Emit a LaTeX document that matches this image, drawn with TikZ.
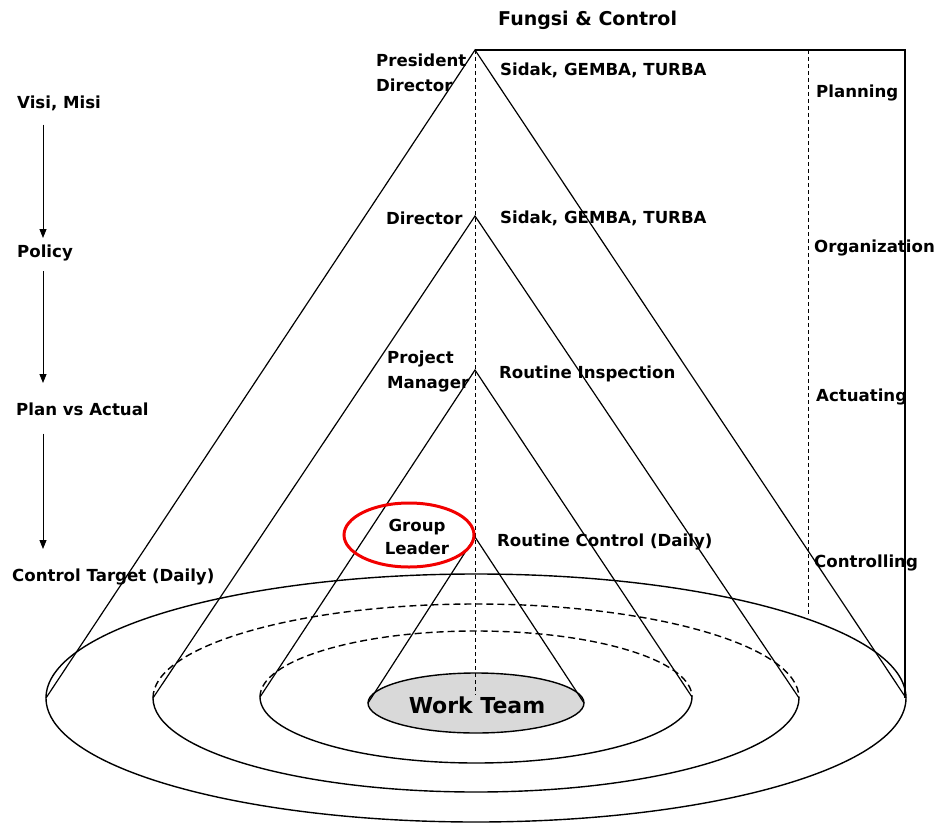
\documentclass[tikz,border=0pt]{standalone}
\usepackage{fontspec}
\setmainfont{DejaVu Sans}
\usetikzlibrary{arrows.meta}
\begin{document}
\begin{tikzpicture}[x=1pt,y=-1pt,
  lbl/.style={font=\bfseries\fontsize{16.6}{25}\selectfont, inner sep=0pt, anchor=west, align=left},
  ln/.style={line width=1.2pt, black},
  eln/.style={line width=1.4pt, black},
  dsh/.style={line width=1.4pt, dash pattern=on 7pt off 4pt},
  vdsh/.style={line width=0.8pt, dash pattern=on 4pt off 3pt},
  arr/.style={line width=0.9pt, -{Triangle[width=7pt,length=9pt]}}]
\useasboundingbox (0,0) rectangle (936,824);
\fill[white] (0,0) rectangle (936,824);
% apexes
\coordinate (a1) at (475,50);
\coordinate (a2) at (475,216);
\coordinate (a3) at (475,370);
\coordinate (a4) at (475,537);
\coordinate (tr) at (905,50);
\coordinate (br) at (905,698);
\coordinate (l1) at (46,698);  \coordinate (r1) at (906,698);
\coordinate (l2) at (153,698); \coordinate (r2) at (799,698);
\coordinate (l3) at (260,697); \coordinate (r3) at (692,697);
\coordinate (l4) at (368,703); \coordinate (r4) at (584,703);
% ellipses
\draw[eln] (476,698) ellipse [x radius=430, y radius=124];
\draw[eln] (r2) arc[start angle=0, end angle=180, x radius=323, y radius=94];
\draw[dsh] (l2) arc[start angle=180, end angle=360, x radius=323, y radius=94];
\draw[eln] (r3) arc[start angle=0, end angle=180, x radius=216, y radius=66];
\draw[dsh] (l3) arc[start angle=180, end angle=360, x radius=216, y radius=66];
\draw[eln, fill=black!15] (476,703) ellipse [x radius=108, y radius=30];
% cones
\draw[ln] (l1) -- (a1) -- (r1);
\draw[ln] (a1) -- (tr) -- (br);
\draw[ln] (l2) -- (a2) -- (r2);
\draw[ln] (l3) -- (a3) -- (r3);
\draw[ln] (l4) -- (a4) -- (r4);
% dashed verticals
\draw[vdsh] (a1) -- (475,695);
\draw[vdsh] (808,50) -- (808,614);
% work team
\node[font=\bfseries\fontsize{22}{26}\selectfont, inner sep=0pt] (wt) at (477,705) {Work Team};
% titles and labels
\node[lbl, font=\bfseries\fontsize{19}{23}\selectfont] (title) at (498,20) {Fungsi \& Control};
\node[lbl] (pres) at (376,73) {President\\Director};
\node[lbl] (sidak1) at (500,70) {Sidak, GEMBA, TURBA};
\node[lbl] (plan) at (816,93) {Planning};
\node[lbl] (dir) at (386,218) {Director};
\node[lbl] (sidak2) at (500,218) {Sidak, GEMBA, TURBA};
\node[lbl] (org) at (814,248) {Organization};
\node[lbl] (pm) at (387,371) {Project\\Manager};
\node[lbl] (ri) at (499,374) {Routine Inspection};
\node[lbl] (act) at (816,397) {Actuating};
\node[lbl, anchor=center, align=center, font=\bfseries\fontsize{16.6}{23}\selectfont] (gl) at (417,537) {Group\\Leader};
\node[lbl] (rc) at (497,542) {Routine Control (Daily)};
\node[lbl] (ctl) at (814,563) {Controlling};
\draw[line width=3pt, red!95!black] (409,535) ellipse [x radius=65, y radius=32];
% left column
\node[lbl] (visi) at (17,103) {Visi, Misi};
\node[lbl] (pol) at (17,253) {Policy};
\node[lbl] (pva) at (16,409) {Plan vs Actual};
\node[lbl] (ctd) at (12,577) {Control Target (Daily)};
\coordinate (ax) at (43,0);
\draw[arr] (visi.south -| ax) ++(0,14) -- (43,238);
\draw[arr] (pol.south -| ax) ++(0,10) -- (43,383);
\draw[arr] (pva.south -| ax) ++(0,18) -- (43,549);
\end{tikzpicture}
\end{document}
